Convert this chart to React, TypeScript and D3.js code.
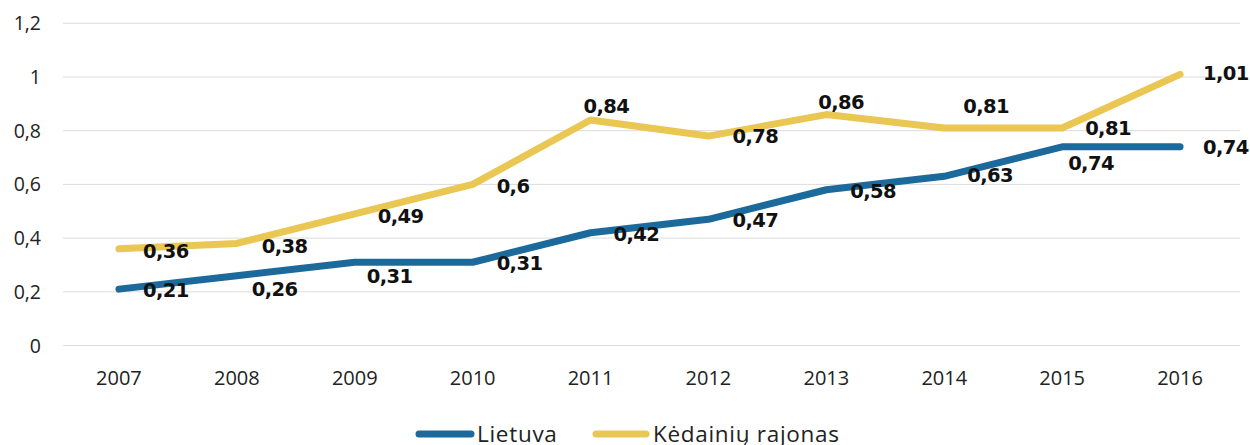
import React from "react";
import * as d3 from "d3";

const years = ["2007", "2008", "2009", "2010", "2011", "2012", "2013", "2014", "2015", "2016"];
const lietuva = [0.21, 0.26, 0.31, 0.31, 0.42, 0.47, 0.58, 0.63, 0.74, 0.74];
const kedainiai = [0.36, 0.38, 0.49, 0.6, 0.84, 0.78, 0.86, 0.81, 0.81, 1.01];
const yTicks = [0, 0.2, 0.4, 0.6, 0.8, 1, 1.2];
const seriesNames = ["Lietuva", "Kėdainių rajonas"];

// label placement (layout only): text start offset and vertical center offset from point
const lietuvaLabelDx = [24, 15, 12, 24, 23, 24, 24, 23, 6, 23];
const lietuvaLabelDy = [1, 13, 14, 1, 1, 1, 1, -1, 16.5, 0];
const kedLabelDx = [24, 25, 23, 24, -7, 24, -8, 19, 23, 23];
const kedLabelDy = [2, 2, 1.5, 1, -14, 0, -13, -22, 0, -1];

const W = 1250;
const H = 445;
const BLUE = "#1c6a9b";
const YELLOW = "#e9c752";

const fmt = (v: number) => String(v).replace(".", ",");

export default function App() {
  const x = d3.scalePoint<string>().domain(years).range([60, 1239]).padding(0.5);
  const y = d3.scaleLinear().domain([0, 1.2]).range([345.5, 23.3]);
  const line = d3
    .line<number>()
    .x((_, i) => x(years[i]) as number)
    .y((d) => y(d));

  const labelFont = 19.5;
  const baseShift = 0.729 * labelFont * 0.5;

  const series = [
    { name: seriesNames[0], values: lietuva, color: BLUE, dx: lietuvaLabelDx, dy: lietuvaLabelDy },
    { name: seriesNames[1], values: kedainiai, color: YELLOW, dx: kedLabelDx, dy: kedLabelDy },
  ];

  return (
    <svg
      width={W}
      height={H}
      viewBox={`0 0 ${W} ${H}`}
      style={{ position: "absolute", left: 0, top: 0, background: "#fff" }}
    >
      <rect x={0} y={0} width={W} height={H} fill="#fff" />
      {yTicks.map((t) => (
        <g key={t}>
          <line x1={63} x2={1240} y1={y(t)} y2={y(t)} stroke="#dcdcdc" strokeWidth={1} />
          <text
            x={41}
            y={y(t) + 7}
            textAnchor="end"
            fontFamily="'Open Sans', sans-serif"
            fontSize={19.5}
            fill="#222"
          >
            {fmt(t)}
          </text>
        </g>
      ))}
      {years.map((yr) => (
        <text
          key={yr}
          x={x(yr) as number}
          y={385}
          textAnchor="middle"
          fontFamily="'Open Sans', sans-serif"
          fontSize={20}
          fill="#222"
        >
          {yr}
        </text>
      ))}
      {series.map((s) => (
        <path
          key={s.name}
          d={line(s.values) || ""}
          fill="none"
          stroke={s.color}
          strokeWidth={7}
          strokeLinecap="round"
          strokeLinejoin="round"
        />
      ))}
      {series.map((s) =>
        s.values.map((v, i) => (
          <text
            key={s.name + i}
            x={(x(years[i]) as number) + s.dx[i]}
            y={y(v) + s.dy[i] + baseShift}
            fontFamily="'DejaVu Sans', sans-serif"
            fontWeight="bold"
            fontSize={labelFont}
            letterSpacing={-0.6}
            fill="#111"
          >
            {fmt(v)}
          </text>
        ))
      )}
      <g>
        <line x1={419} x2={471} y1={434} y2={434} stroke={BLUE} strokeWidth={7} strokeLinecap="round" />
        <text x={477} y={442} fontFamily="'Open Sans', sans-serif" fontSize={22.5} letterSpacing={0.7} fill="#222">
          {seriesNames[0]}
        </text>
        <line x1={596} x2={646} y1={434} y2={434} stroke={YELLOW} strokeWidth={7} strokeLinecap="round" />
        <text x={653} y={442} fontFamily="'Open Sans', sans-serif" fontSize={22.5} letterSpacing={0.7} fill="#222">
          {seriesNames[1]}
        </text>
      </g>
    </svg>
  );
}
